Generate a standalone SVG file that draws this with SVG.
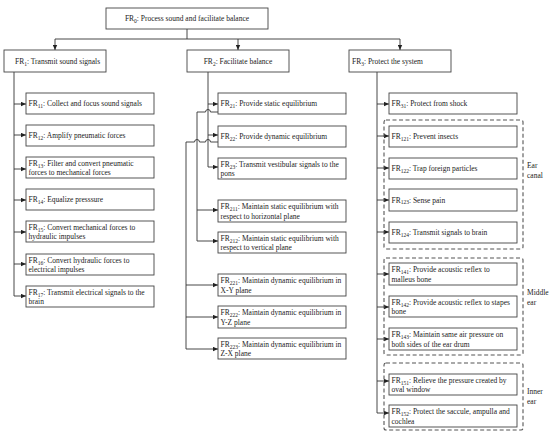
<svg xmlns="http://www.w3.org/2000/svg" width="550" height="434" viewBox="0 0 550 434">
<style>
.b{fill:#fff;stroke:#444;stroke-width:0.9}
.t{font-family:"Liberation Serif","Times New Roman",serif;font-size:7.5px;fill:#222}
.s{font-size:5.5px}
.c{fill:none;stroke:#333;stroke-width:0.9}
.d{fill:none;stroke:#555;stroke-width:1.1;stroke-dasharray:4,2.5}
.g{font-family:"Liberation Serif","Times New Roman",serif;font-size:7.5px;fill:#222}
</style>
<defs>
<marker id="ah" markerWidth="6" markerHeight="5" refX="5" refY="2.5" orient="auto" markerUnits="userSpaceOnUse"><path d="M0,0.3 L5,2.5 L0,4.7 z" fill="#222"/></marker>
</defs>
<rect width="550" height="434" fill="#fff"/>

<g id="connectors">
<path class="c" d="M187,29 V39 M55,39 H400"/>
<path class="c" d="M55,39 V50" marker-end="url(#ah)"/>
<path class="c" d="M238,39 V50" marker-end="url(#ah)"/>
<path class="c" d="M400,39 V50" marker-end="url(#ah)"/>
<path class="c" d="M14,104 H26" marker-end="url(#ah)"/>
<path class="c" d="M14,135 H26" marker-end="url(#ah)"/>
<path class="c" d="M14,169 H26" marker-end="url(#ah)"/>
<path class="c" d="M14,200 H26" marker-end="url(#ah)"/>
<path class="c" d="M14,232 H26" marker-end="url(#ah)"/>
<path class="c" d="M14,264 H26" marker-end="url(#ah)"/>
<path class="c" d="M14,72 V296 H26" marker-end="url(#ah)"/>
<path class="c" d="M208,104 H218" marker-end="url(#ah)"/>
<path class="c" d="M208,135 H218" marker-end="url(#ah)"/>
<path class="c" d="M208,72 V167 H218" marker-end="url(#ah)"/>
<path class="c" d="M218,112 H210.5 A2.5,2.5 0 0 0 205.5,112 H197 V241 H218" marker-end="url(#ah)"/>
<path class="c" d="M197,210 H218" marker-end="url(#ah)"/>
<path class="c" d="M218,142 H210.5 A2.5,2.5 0 0 0 205.5,142 H199.5 A2.5,2.5 0 0 0 194.5,142 H186 V349 H218" marker-end="url(#ah)"/>
<path class="c" d="M186,285 H218" marker-end="url(#ah)"/>
<path class="c" d="M186,317 H218" marker-end="url(#ah)"/>
<path class="c" d="M377,104 H389" marker-end="url(#ah)"/>
<path class="c" d="M377,136 H389" marker-end="url(#ah)"/>
<path class="c" d="M377,168 H389" marker-end="url(#ah)"/>
<path class="c" d="M377,200 H389" marker-end="url(#ah)"/>
<path class="c" d="M377,232 H389" marker-end="url(#ah)"/>
<path class="c" d="M377,274 H389" marker-end="url(#ah)"/>
<path class="c" d="M377,307 H389" marker-end="url(#ah)"/>
<path class="c" d="M377,339 H389" marker-end="url(#ah)"/>
<path class="c" d="M377,381 H389" marker-end="url(#ah)"/>
<path class="c" d="M377,72 V413 H389" marker-end="url(#ah)"/>
</g>

<g id="groups">
<rect class="d" x="384" y="120" width="139" height="129" rx="2"/>
<text class="g" x="527" y="168">Ear</text>
<text class="g" x="527" y="178">canal</text>
<rect class="d" x="384" y="258" width="139" height="97" rx="2"/>
<text class="g" x="527" y="295">Middle</text>
<text class="g" x="527" y="305">ear</text>
<rect class="d" x="384" y="363" width="139" height="67" rx="2"/>
<text class="g" x="527" y="394">Inner</text>
<text class="g" x="527" y="404">ear</text>
</g>

<g id="FR0"><rect class="b" x="106" y="8" width="162" height="21"/><text class="t" x="187" y="21" text-anchor="middle">FR<tspan class="s" dy="1.5">0</tspan><tspan dy="-1.5">: Process sound and facilitate balance</tspan></text></g>
<g id="FR1"><rect class="b" x="4" y="50" width="102" height="22"/><text class="t" x="15" y="64">FR<tspan class="s" dy="1.5">1</tspan><tspan dy="-1.5">: Transmit sound signals</tspan></text></g>
<g id="FR2"><rect class="b" x="187" y="50" width="102" height="22"/><text class="t" x="238" y="64" text-anchor="middle">FR<tspan class="s" dy="1.5">2</tspan><tspan dy="-1.5">: Facilitate balance</tspan></text></g>
<g id="FR3"><rect class="b" x="349" y="50" width="102" height="22"/><text class="t" x="352" y="64">FR<tspan class="s" dy="1.5">3</tspan><tspan dy="-1.5">: Protect the system</tspan></text></g>

<g id="FR11"><rect class="b" x="26" y="93" width="128" height="21"/><text class="t" x="28.5" y="106">FR<tspan class="s" dy="1.5">11</tspan><tspan dy="-1.5">: Collect and focus sound signals</tspan></text></g>
<g id="FR12"><rect class="b" x="26" y="125" width="128" height="21"/><text class="t" x="28.5" y="138">FR<tspan class="s" dy="1.5">12</tspan><tspan dy="-1.5">: Amplify pneumatic forces</tspan></text></g>
<g id="FR13"><rect class="b" x="26" y="157" width="128" height="21"/><text class="t" x="28.5" y="166">FR<tspan class="s" dy="1.5">13</tspan><tspan dy="-1.5">: Filter and convert pneumatic</tspan></text><text class="t" x="28.5" y="175">forces to mechanical forces</text></g>
<g id="FR14"><rect class="b" x="26" y="189" width="128" height="21"/><text class="t" x="28.5" y="202">FR<tspan class="s" dy="1.5">14</tspan><tspan dy="-1.5">: Equalize presssure</tspan></text></g>
<g id="FR15"><rect class="b" x="26" y="221" width="128" height="21"/><text class="t" x="28.5" y="230">FR<tspan class="s" dy="1.5">15</tspan><tspan dy="-1.5">: Convert mechanical forces to</tspan></text><text class="t" x="28.5" y="239">hydraulic impulses</text></g>
<g id="FR16"><rect class="b" x="26" y="254" width="128" height="21"/><text class="t" x="28.5" y="263">FR<tspan class="s" dy="1.5">16</tspan><tspan dy="-1.5">: Convert hydraulic forces to</tspan></text><text class="t" x="28.5" y="272">electrical impulses</text></g>
<g id="FR17"><rect class="b" x="26" y="286" width="128" height="21"/><text class="t" x="28.5" y="295">FR<tspan class="s" dy="1.5">17</tspan><tspan dy="-1.5">: Transmit electrical signals to the</tspan></text><text class="t" x="28.5" y="304">brain</text></g>

<g id="FR21"><rect class="b" x="218" y="93" width="128" height="21"/><text class="t" x="220.5" y="106">FR<tspan class="s" dy="1.5">21</tspan><tspan dy="-1.5">: Provide static equilibrium</tspan></text></g>
<g id="FR22"><rect class="b" x="218" y="126" width="128" height="21"/><text class="t" x="220.5" y="139">FR<tspan class="s" dy="1.5">22</tspan><tspan dy="-1.5">: Provide dynamic equilibrium</tspan></text></g>
<g id="FR23"><rect class="b" x="218" y="158" width="128" height="21"/><text class="t" x="220.5" y="167">FR<tspan class="s" dy="1.5">23</tspan><tspan dy="-1.5">: Transmit vestibular signals to the</tspan></text><text class="t" x="220.5" y="176">pons</text></g>
<g id="FR211"><rect class="b" x="218" y="200" width="128" height="22"/><text class="t" x="220.5" y="209">FR<tspan class="s" dy="1.5">211</tspan><tspan dy="-1.5">: Maintain static equilibrium with</tspan></text><text class="t" x="220.5" y="218.5">respect to horizontal plane</text></g>
<g id="FR212"><rect class="b" x="218" y="232" width="128" height="21"/><text class="t" x="220.5" y="241">FR<tspan class="s" dy="1.5">212</tspan><tspan dy="-1.5">: Maintain static equilibrium with</tspan></text><text class="t" x="220.5" y="250">respect to vertical plane</text></g>
<g id="FR221"><rect class="b" x="218" y="274" width="128" height="22"/><text class="t" x="220.5" y="283">FR<tspan class="s" dy="1.5">221</tspan><tspan dy="-1.5">: Maintain dynamic equilibrium in</tspan></text><text class="t" x="220.5" y="292.5">X-Y plane</text></g>
<g id="FR222"><rect class="b" x="218" y="306" width="128" height="22"/><text class="t" x="220.5" y="315">FR<tspan class="s" dy="1.5">222</tspan><tspan dy="-1.5">: Maintain dynamic equilibrium in</tspan></text><text class="t" x="220.5" y="324.5">Y-Z plane</text></g>
<g id="FR223"><rect class="b" x="218" y="338" width="128" height="21"/><text class="t" x="220.5" y="347">FR<tspan class="s" dy="1.5">223</tspan><tspan dy="-1.5">: Maintain dynamic equilibrium in</tspan></text><text class="t" x="220.5" y="356">Z-X plane</text></g>

<g id="FR31"><rect class="b" x="389" y="93" width="128" height="21"/><text class="t" x="391.5" y="106">FR<tspan class="s" dy="1.5">31</tspan><tspan dy="-1.5">: Protect from shock</tspan></text></g>
<g id="FR121"><rect class="b" x="389" y="126" width="128" height="21"/><text class="t" x="391.5" y="139">FR<tspan class="s" dy="1.5">121</tspan><tspan dy="-1.5">: Prevent insects</tspan></text></g>
<g id="FR122"><rect class="b" x="389" y="158" width="128" height="21"/><text class="t" x="391.5" y="171">FR<tspan class="s" dy="1.5">122</tspan><tspan dy="-1.5">: Trap foreign particles</tspan></text></g>
<g id="FR123"><rect class="b" x="389" y="189" width="128" height="22"/><text class="t" x="391.5" y="202.5">FR<tspan class="s" dy="1.5">123</tspan><tspan dy="-1.5">: Sense pain</tspan></text></g>
<g id="FR124"><rect class="b" x="389" y="222" width="128" height="21"/><text class="t" x="391.5" y="235">FR<tspan class="s" dy="1.5">124</tspan><tspan dy="-1.5">: Transmit signals to brain</tspan></text></g>
<g id="FR141"><rect class="b" x="389" y="263" width="128" height="22"/><text class="t" x="391.5" y="272">FR<tspan class="s" dy="1.5">141</tspan><tspan dy="-1.5">: Provide acoustic reflex to</tspan></text><text class="t" x="391.5" y="281.5">malleus bone</text></g>
<g id="FR142"><rect class="b" x="389" y="296" width="128" height="21"/><text class="t" x="391.5" y="305">FR<tspan class="s" dy="1.5">142</tspan><tspan dy="-1.5">: Provide acoustic reflex to stapes</tspan></text><text class="t" x="391.5" y="314">bone</text></g>
<g id="FR143"><rect class="b" x="389" y="328" width="128" height="22"/><text class="t" x="391.5" y="337">FR<tspan class="s" dy="1.5">143</tspan><tspan dy="-1.5">: Maintain same air pressure on</tspan></text><text class="t" x="391.5" y="346.5">both sides of the ear drum</text></g>
<g id="FR151"><rect class="b" x="389" y="374" width="128" height="21"/><text class="t" x="391.5" y="383">FR<tspan class="s" dy="1.5">151</tspan><tspan dy="-1.5">: Relieve the pressure created by</tspan></text><text class="t" x="391.5" y="392">oval window</text></g>
<g id="FR152"><rect class="b" x="389" y="405" width="128" height="22"/><text class="t" x="391.5" y="414">FR<tspan class="s" dy="1.5">152</tspan><tspan dy="-1.5">: Protect the saccule, ampulla and</tspan></text><text class="t" x="391.5" y="423.5">cochlea</text></g>
</svg>
